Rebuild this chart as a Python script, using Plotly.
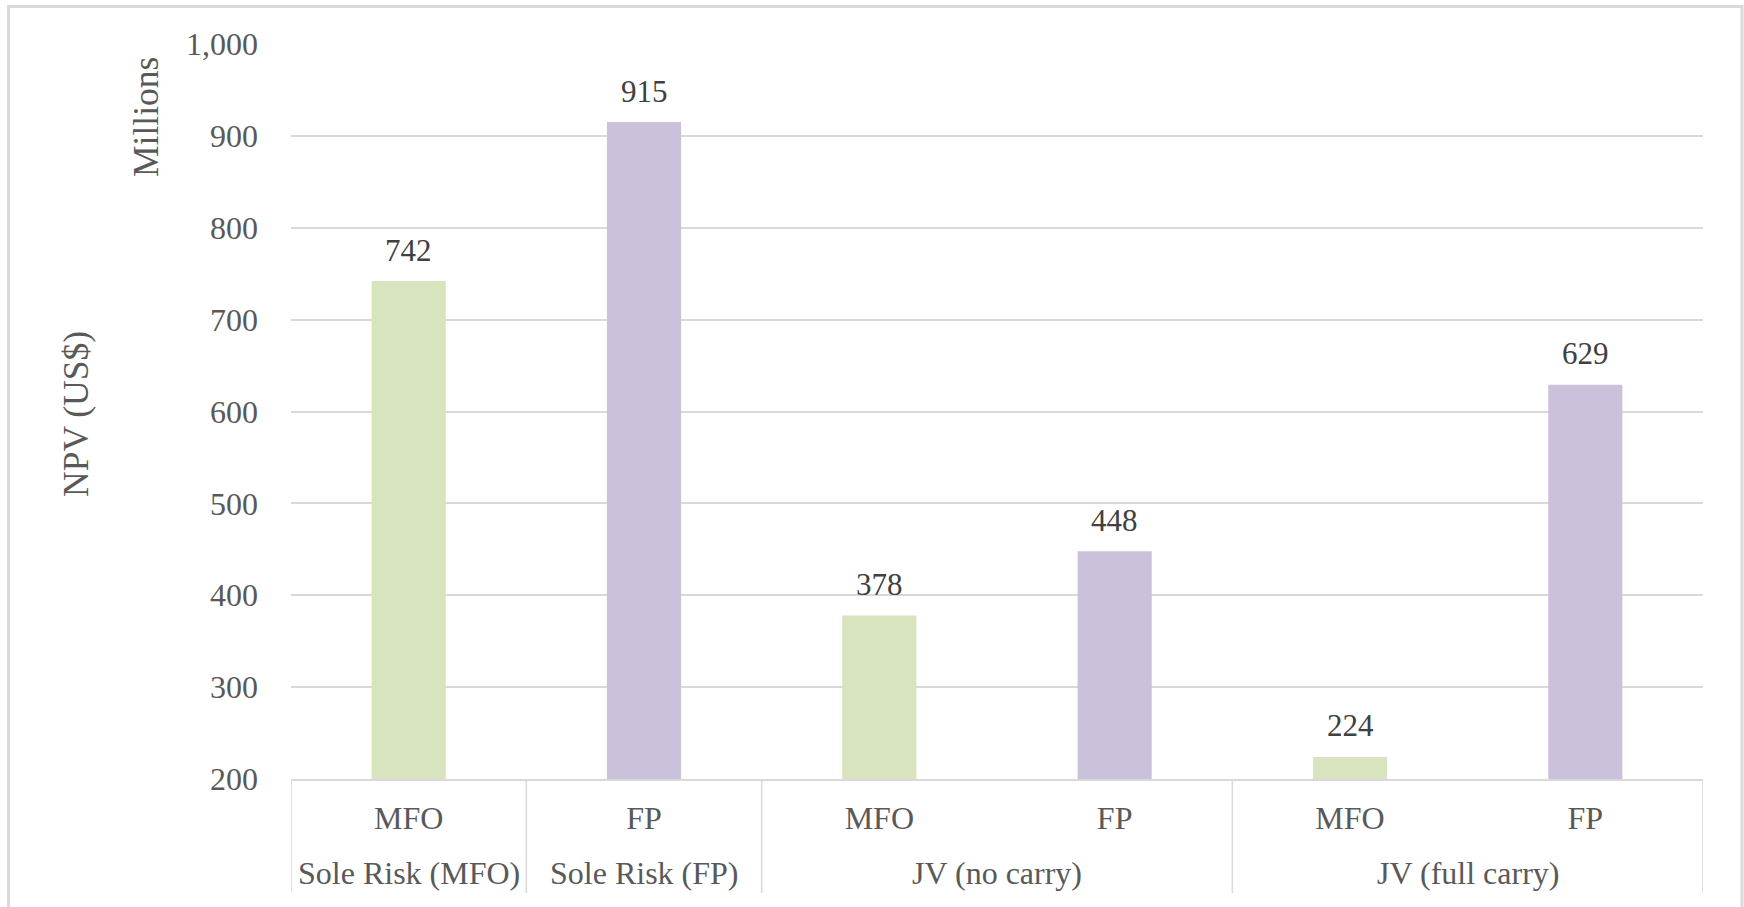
import plotly.graph_objects as go

# Scenario groups (outer label row) and fiscal regime (inner label row)
groups = ["Sole Risk (MFO)", "Sole Risk (FP)", "JV (no carry)", "JV (no carry)",
          "JV (full carry)", "JV (full carry)"]
regimes = ["MFO", "FP", "MFO", "FP", "MFO", "FP"]
npv_millions = [742, 915, 378, 448, 224, 629]

regime_colors = {"MFO": "#d7e4bd", "FP": "#ccc1da"}
y_tick_values = [200, 300, 400, 500, 600, 700, 800, 900, 1000]

FONT = "Liberation Serif"
GRID = "#d9d9d9"
TEXT = "#595959"

W, H = 1744, 907
L, R, T, B = 291, 41, 44, 128
plot_w = W - L - R
plot_h = H - T - B


def px_to_paper_x(px):
    return (px - L) / plot_w


def px_to_paper_y(py):
    return (H - B - py) / plot_h


positions = list(range(len(regimes)))

fig = go.Figure()
fig.add_trace(go.Bar(
    x=positions,
    y=npv_millions,
    marker=dict(color=[regime_colors[r] for r in regimes], line=dict(width=0)),
    showlegend=False,
    customdata=groups,
    hovertemplate="%{customdata}<br>%{y}<extra></extra>",
))

annotations = []
# value labels above each bar
for i, v in zip(positions, npv_millions):
    annotations.append(dict(
        x=i, y=v, xref="x", yref="y", text=f"{v:,}", showarrow=False,
        yanchor="middle", yshift=31,
        font=dict(family=FONT, size=31, color="#404040"),
    ))

# contiguous runs of the same scenario -> outer labels and divider lines
runs = []
for i, g in enumerate(groups):
    if runs and runs[-1][0] == g:
        runs[-1][2] = i
    else:
        runs.append([g, i, i])

divider_bottom = px_to_paper_y(893)
shapes = []
for g, start, end in runs:
    annotations.append(dict(
        x=(start + end) / 2, y=px_to_paper_y(873), xref="x", yref="paper",
        text=g, showarrow=False, xanchor="center", yanchor="middle",
        font=dict(family=FONT, size=32, color=TEXT),
    ))
    shapes.append(dict(
        type="line", xref="x", yref="paper", x0=start - 0.5, x1=start - 0.5,
        y0=0, y1=divider_bottom, line=dict(color=GRID, width=1.5),
    ))
shapes.append(dict(
    type="line", xref="x", yref="paper",
    x0=runs[-1][2] + 0.5, x1=runs[-1][2] + 0.5,
    y0=0, y1=divider_bottom, line=dict(color=GRID, width=1.5),
))

# axis titles
annotations.append(dict(
    x=px_to_paper_x(76), y=px_to_paper_y(414), xref="paper", yref="paper",
    text="NPV (US$)", textangle=-90, showarrow=False,
    xanchor="center", yanchor="middle",
    font=dict(family=FONT, size=35.5, color=TEXT),
))
annotations.append(dict(
    x=px_to_paper_x(146), y=px_to_paper_y(117), xref="paper", yref="paper",
    text="Millions", textangle=-90, showarrow=False,
    xanchor="center", yanchor="middle",
    font=dict(family=FONT, size=35.5, color=TEXT),
))

# chart frame
shapes.append(dict(
    type="rect", xref="paper", yref="paper",
    x0=px_to_paper_x(8.5), x1=px_to_paper_x(1742),
    y0=px_to_paper_y(6.5), y1=px_to_paper_y(960),
    line=dict(color=GRID, width=3), fillcolor="rgba(0,0,0,0)", layer="below",
))

fig.update_layout(
    width=W, height=H,
    margin=dict(l=L, r=R, t=T, b=B, autoexpand=False),
    paper_bgcolor="white", plot_bgcolor="white",
    bargap=0.685,
    font=dict(family=FONT, color=TEXT),
    annotations=annotations,
    shapes=shapes,
)

fig.update_xaxes(
    range=[-0.5, len(regimes) - 0.5],
    tickvals=positions, ticktext=regimes,
    showline=True, linecolor=GRID, linewidth=1.5,
    showgrid=False, zeroline=False, ticks="", automargin=False,
    ticklabelstandoff=10,
    tickfont=dict(family=FONT, size=32, color=TEXT),
)
fig.update_yaxes(
    range=[200, 1000], tickvals=y_tick_values, tickformat=",",
    showgrid=True, gridcolor=GRID, gridwidth=1.5,
    showline=False, zeroline=False, ticks="", automargin=False,
    ticklabelstandoff=32,
    tickfont=dict(family=FONT, size=32, color=TEXT),
)

fig.write_html("out.html")
